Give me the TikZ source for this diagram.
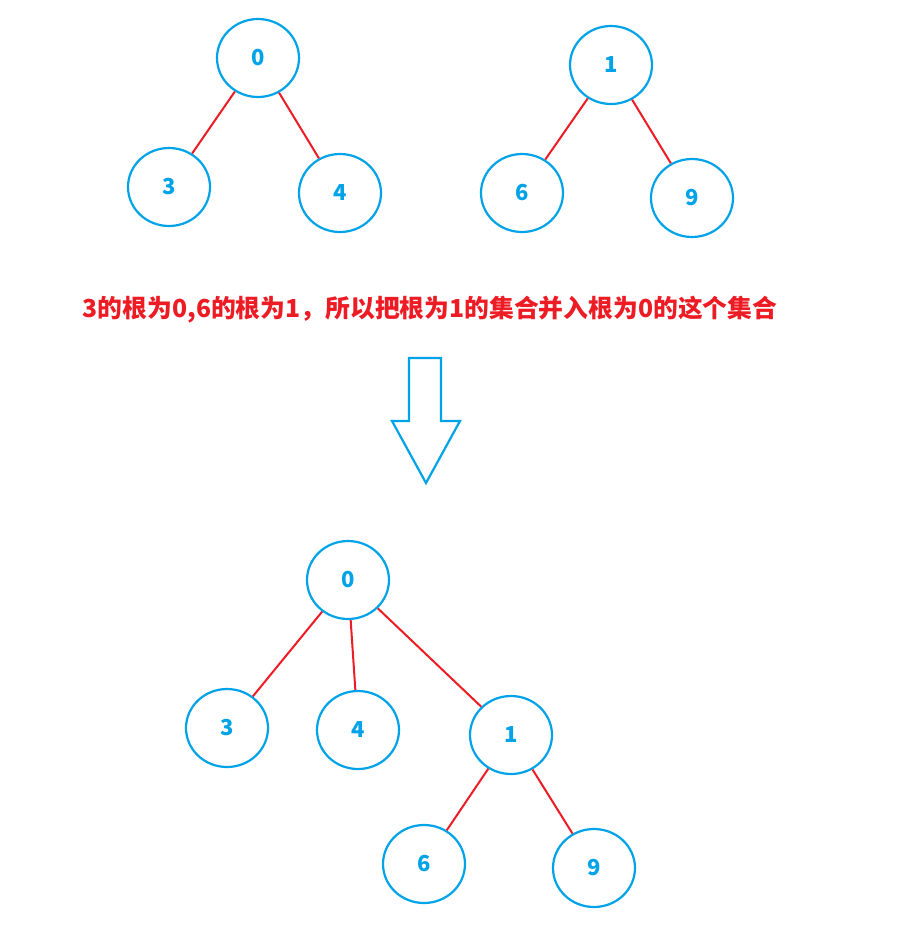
\documentclass[tikz,border=0pt]{standalone}
\usepackage{fontspec}
\setmainfont{Noto Sans CJK SC}
\usetikzlibrary{shapes.geometric}
\definecolor{nodeblue}{RGB}{0,162,232}
\definecolor{linered}{RGB}{237,28,36}
\tikzset{
	setnode/.style={ellipse, draw=nodeblue, line width=2.2pt, minimum width=82pt, minimum height=78pt, inner sep=0, text=nodeblue, font=\bfseries\fontsize{22}{22}\selectfont},
	link/.style={draw=linered, line width=2pt}
}
\begin{document}
\begin{tikzpicture}[x=1pt,y=-1pt]
		\useasboundingbox (0,0) rectangle (902,930);
		% two sets before the merge
		\node (a0) at (258,58) [setnode] {0};
		\node (a3) at (169,187) [setnode] {3};
		\node (a4) at (340,193) [setnode] {4};
		\node (b1) at (611,65) [setnode] {1};
		\node (b6) at (522,193) [setnode] {6};
		\node (b9) at (692,198) [setnode] {9};
		\draw[link] (a0) -- (a3);
		\draw[link] (a0) -- (a4);
		\draw[link] (b1) -- (b6);
		\draw[link] (b1) -- (b9);
		\node (note) at (430,310) [text=linered, font=\bfseries\fontsize{24.8}{25}\selectfont] {3的根为0,6的根为1，所以把根为1的集合并入根为0的这个集合};
		% hollow arrow
		\draw[nodeblue, line width=2.2pt] (409,358) -- (441,358) -- (441,421) -- (460,421) -- (426,483) -- (392,421) -- (409,421) -- cycle;
		% merged set
		\node (c0) at (348,580) [setnode] {0};
		\node (c3) at (227,728) [setnode] {3};
		\node (c4) at (358,730) [setnode] {4};
		\node (c1) at (511,735) [setnode] {1};
		\node (c6) at (424,864) [setnode] {6};
		\node (c9) at (594,868) [setnode] {9};
		\draw[link] (c0) -- (c3);
		\draw[link] (c0) -- (c4);
		\draw[link] (c0) -- (c1);
		\draw[link] (c1) -- (c6);
		\draw[link] (c1) -- (c9);
	\end{tikzpicture}
\end{document}
